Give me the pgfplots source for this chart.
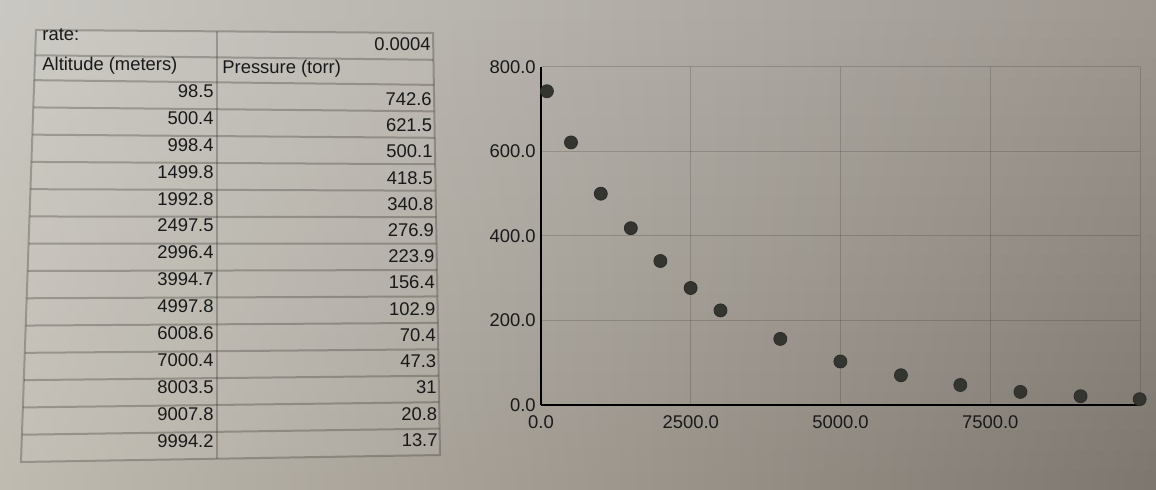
\documentclass[border=0pt]{standalone}
\usepackage{pgfplots}
\usepackage{pgfplotstable}
\pgfplotsset{compat=1.18}
\usepackage{fontspec}
\setmainfont{Liberation Sans}
\definecolor{TL}{RGB}{202,200,194}
\definecolor{TM}{RGB}{174,170,163}
\definecolor{TR}{RGB}{158,152,145}
\definecolor{BL}{RGB}{192,187,177}
\definecolor{BM}{RGB}{145,140,130}
\definecolor{BR}{RGB}{125,118,110}
\definecolor{linec}{RGB}{50,46,40}
\definecolor{txt}{RGB}{25,25,25}
\definecolor{dotc}{RGB}{52,52,48}
\pgfplotstableread{
alt pres
98.5 742.6
500.4 621.5
998.4 500.1
1499.8 418.5
1992.8 340.8
2497.5 276.9
2996.4 223.9
3994.7 156.4
4997.8 102.9
6008.6 70.4
7000.4 47.3
8003.5 31
9007.8 20.8
9994.2 13.7
}\datatab
\newcommand\tf{\fontsize{9.2pt}{11pt}\selectfont}
\begin{document}
\begin{tikzpicture}
\begin{scope}[x=0.5pt,y=-0.5pt,yshift=245pt]
\fill[TL] (0,0) rectangle (1156,490);
\useasboundingbox (0,0) rectangle (1156,490);
% photo background with vignette
\foreach \s in {0,...,24}{
  \pgfmathtruncatemacro\p{round(100*(\s+0.5)/25)}
  \colorlet{cL}{BL!\p!TL}
  \colorlet{cM}{BM!\p!TM}
  \colorlet{cR}{BR!\p!TR}
  \pgfmathsetmacro\ya{19.6*\s-0.3}
  \pgfmathsetmacro\yb{19.6*(\s+1)+0.3}
  \shade[left color=cL, middle color=cM, right color=cR] (0,\ya) rectangle (1156,\yb);
}
% table cells
\begin{scope}
\clip (36,30) -- (433,33) -- (440,455) -- (21,462) -- cycle;
\fill[white, fill opacity=0.07] (0,0) rectangle (500,500);
\draw[linec, draw opacity=0.3, line width=1pt] (10,55) -- (450,60);
\foreach \k in {0,...,13}{
  \pgfmathsetmacro\yl{80+27.29*\k}
  \pgfmathsetmacro\yr{85+26.43*\k}
  \draw[linec, draw opacity=0.3, line width=1pt] (20,\yl) -- (440,\yr);
}
\draw[linec, draw opacity=0.3, line width=1pt] (217,0) -- (217,500);
\end{scope}
\draw[linec, draw opacity=0.3, line width=1pt] (36,30) -- (433,33) -- (440,455) -- (21,462) -- cycle;
% table text
\begin{scope}[every node/.style={inner sep=0pt, text=txt, font=\tf}]
\node[anchor=west] at (42,35) {rate:};
\node[anchor=east] at (431,44) {0.0004};
\node[anchor=west] at (42,66) {Altitude (meters)};
\node[anchor=west] at (222,69) {Pressure (torr)};
\foreach \v [count=\i from 0] in {98.5,500.4,998.4,1499.8,1992.8,2497.5,2996.4,3994.7,4997.8,6008.6,7000.4,8003.5,9007.8,9994.2}{
  \node[anchor=east] at (214,91+26.92*\i) {\v};
}
\foreach \v [count=\i from 0] in {742.6,621.5,500.1,418.5,340.8,276.9,223.9,156.4,102.9,70.4,47.3,31,20.8,13.7}{
  \node[anchor=east] at (432+0.46*\i,99+26.23*\i) {\v};
}
\end{scope}
\end{scope}
\begin{axis}[
  at={(270.5pt,42.5pt)}, anchor=south west,
  scale only axis, width=299.5pt, height=169pt,
  xmin=0, xmax=10000, ymin=0, ymax=800,
  scaled x ticks=false, scaled y ticks=false,
  axis x line*=bottom, axis y line*=left,
  axis line style={-, black, line width=0.75pt},
  tick style={draw=none},
  xtick={0,2500,5000,7500,10000},
  xticklabels={0.0,2500.0,5000.0,7500.0,{}},
  ytick={0,200,400,600,800},
  yticklabels={0.0,200.0,400.0,600.0,800.0},
  grid=major,
  grid style={linec, draw opacity=0.22, line width=0.5pt},
  /pgf/number format/assume math mode=true,
  tick label style={font=\tf, text=txt, inner sep=0pt},
  xticklabel style={anchor=north, yshift=-5pt},
  yticklabel style={anchor=east, xshift=-2.5pt},
]
\addplot[only marks, mark=*, mark size=3.25pt, mark options={fill=dotc, draw=dotc!85!black}] table[x=alt, y=pres] {\datatab};
\end{axis}
\end{tikzpicture}
\end{document}
